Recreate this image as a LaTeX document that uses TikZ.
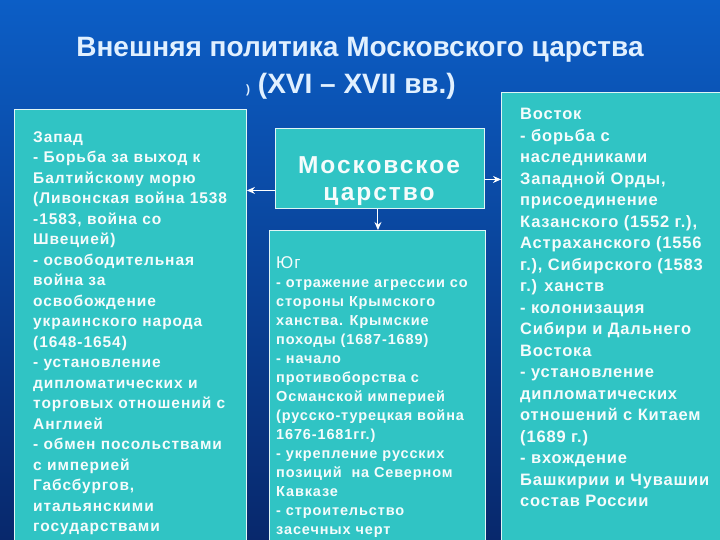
\documentclass[tikz,border=0pt]{standalone}
\usepackage{fontspec}
\setmainfont{Liberation Sans}
\usetikzlibrary{arrows.meta}
\definecolor{boxfill}{RGB}{48,196,196}
\definecolor{bgtop}{RGB}{12,94,198}
\definecolor{bgbot}{RGB}{8,40,108}
\definecolor{titlec}{RGB}{225,240,255}
\definecolor{txtc}{RGB}{245,252,252}
\tikzset{
  panel/.style={draw=white!85!boxfill, line width=0.9pt, fill=boxfill, anchor=north west, inner sep=0pt},
  bodytext/.style={anchor=north west, inner sep=0pt, align=left, text=txtc, font=\bfseries},
  arr/.style={draw=white, line width=1pt, -{Stealth[length=8pt,width=7pt]}},
}
\begin{document}
\begin{tikzpicture}[x=1pt,y=-1pt]
\useasboundingbox (0,0) rectangle (720,540);
\clip (0,0) rectangle (720,540);
\shade[top color=bgtop, bottom color=bgbot] (0,0) rectangle (720,540);

% title
\node[text=titlec, font=\bfseries\fontsize{28}{32}\selectfont] (title1) at (360,50) {Внешняя политика Московского царства};
\node[text=titlec, font=\bfseries\fontsize{28}{32}\selectfont] (title2) at (351,86) {{\fontsize{12}{14}\selectfont)} (XVI – XVII вв.)};

% panels
\node[panel, minimum width=232, minimum height=450] (west) at (14,109) {};
\node[panel, minimum width=209, minimum height=80] (mid) at (275,128) {};
\node[panel, minimum width=216, minimum height=330] (south) at (269,230) {};
\node[panel, minimum width=230, minimum height=470] (east) at (501,92) {};

% texts
\node[bodytext, font=\bfseries\fontsize{15.5}{20.5}\selectfont\addfontfeature{LetterSpace=6}] (westtxt) at (33,131) {Запад\\
- Борьба за выход к\\
Балтийскому морю\\
(Ливонская война 1538\\
-1583, война со\\
Швецией)\\
- освободительная\\
война за\\
освобождение\\
украинского народа\\
(1648-1654)\\
- установление\\
дипломатических и\\
торговых отношений с\\
Англией\\
- обмен посольствами\\
с империей\\
Габсбургов,\\
итальянскими\\
государствами};

\node[text=txtc, font=\bfseries\fontsize{24.5}{27}\selectfont\addfontfeature{LetterSpace=8}, align=center] (midtxt) at (379,181) {Московское\\царство};

\node[bodytext, font=\bfseries\fontsize{14.5}{19}\selectfont\addfontfeature{LetterSpace=6}] (southtxt) at (276,256) {{\mdseries\fontsize{17}{21}\selectfont Юг}\\
- отражение агрессии со\\
стороны Крымского\\
ханства. Крымские\\
походы (1687-1689)\\
- начало\\
противоборства с\\
Османской империей\\
(русско-турецкая война\\
1676-1681гг.)\\
- укрепление русских\\
позиций~ на Северном\\
Кавказе\\
- строительство\\
засечных черт};

\node[bodytext, font=\bfseries\fontsize{16.5}{21.5}\selectfont\addfontfeature{LetterSpace=5}] (easttxt) at (520,108) {Восток\\
- борьба с\\
наследниками\\
Западной Орды,\\
присоединение\\
Казанского (1552 г.),\\
Астраханского (1556\\
г.), Сибирского (1583\\
г.) ханств\\
- колонизация\\
Сибири и Дальнего\\
Востока\\
- установление\\
дипломатических\\
отношений с Китаем\\
(1689 г.)\\
- вхождение\\
Башкирии и Чувашии\\
состав России};

% arrows
\draw[arr] ([yshift=-22pt]mid.west) -- ([yshift=-22pt]mid.west -| west.east);
\draw[arr] ([yshift=-11pt]mid.east) -- ([yshift=-11pt]mid.east -| east.west);
\draw[arr] ([xshift=-2pt]mid.south) -- ([xshift=-2pt]mid.south |- south.north);
\end{tikzpicture}
\end{document}
